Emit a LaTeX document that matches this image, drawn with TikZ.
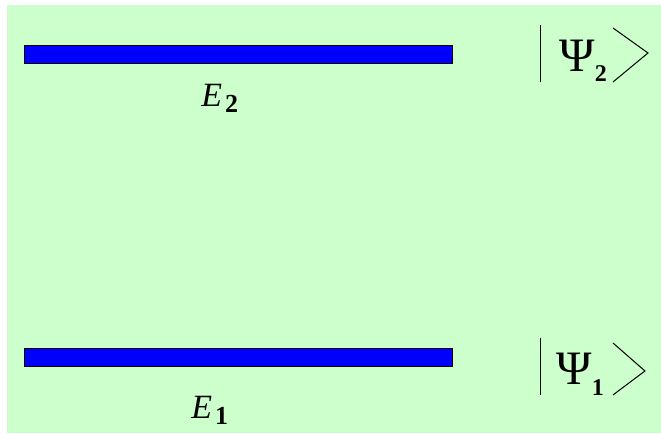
\documentclass[tikz,border=0pt]{standalone}
\usepackage{fontspec}
\setmainfont{Liberation Serif}
\usetikzlibrary{positioning}
\definecolor{bggreen}{RGB}{204,255,204}

\begin{document}
\begin{tikzpicture}[
        x=0.5pt, y=0.5pt,
        level/.style={
            draw,
            fill=blue,
            line width=0.5pt,
            minimum width=214pt,
            minimum height=9pt,
            inner sep=0pt
        },
        energy/.style={
            inner sep=0pt,
            anchor=base west,
            font=\fontsize{17}{20}\selectfont
        },
        ket/.style={
            inner sep=0pt,
            anchor=base west,
            font=\fontsize{24}{28}\selectfont
        },
        ketline/.style={
            line width=0.5pt
        }
    ]

        \useasboundingbox (0,0) rectangle (661,434);
        \fill[bggreen] (7,1) rectangle (661,429);

        \node[level] (level2) at (238.5,379) {};
        \node[level] (level1) at (238.5,76) {};

        \node[energy] (e2) at (201,327)
            {\textit{E}\kern1.5pt\raisebox{-3pt}{\fontsize{13}{15}\selectfont\bfseries 2}};

        \node[energy] (e1) at (191,15)
            {\textit{E}\kern1.5pt\raisebox{-3pt}{\fontsize{13}{15}\selectfont\bfseries 1}};

        \node[ket] (psi2) at (559,362)
            {Ψ\raisebox{-5pt}{\fontsize{12}{14}\selectfont\bfseries 2}};

        \node[ket] (psi1) at (556,49)
            {Ψ\raisebox{-5.5pt}{\fontsize{12}{14}\selectfont\bfseries 1}};

        % ket brackets
        \draw[ketline] (541,409) -- (541,352);
        \draw[ketline] (613,406) -- (648,381) -- (613,352);
        \draw[ketline] (541,96) -- (541,39);
        \draw[ketline] (613,91) -- (645,63) -- (613,39);

    \end{tikzpicture}
\end{document}
